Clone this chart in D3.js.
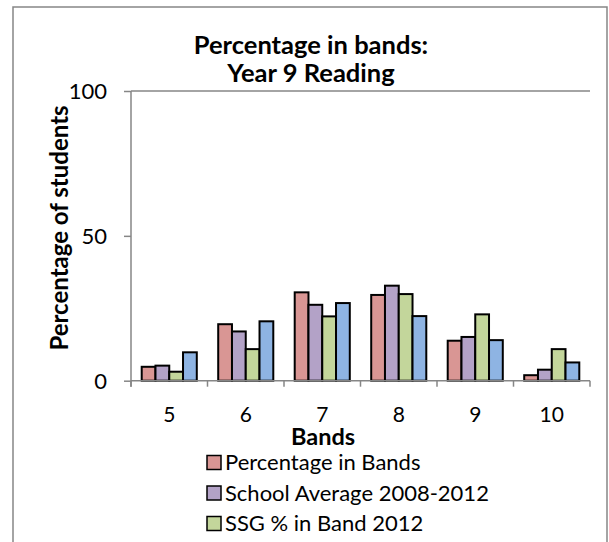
<!DOCTYPE html>
<html><head><meta charset="utf-8">
<script src="https://cdn.jsdelivr.net/npm/d3@7"></script>
<style>
html,body{margin:0;padding:0;background:#fff;}
svg{display:block;font-family:Lato,"Liberation Sans",sans-serif;}
</style></head>
<body>
<svg id="c" width="609" height="542"></svg>
<script>
const categories = ["5","6","7","8","9","10"];
const seriesNames = ["Percentage in Bands","School Average 2008-2012","SSG % in Band 2012","State % in Band 2012"];
const percentageInBands = [4.8, 19.5, 30.5, 29.6, 13.8, 1.9];
const schoolAverage = [5.2, 17.0, 26.2, 32.8, 15.1, 3.8];
const ssgBand2012 = [3.1, 10.9, 22.2, 29.9, 22.9, 10.9];
const stateBand2012 = [9.8, 20.5, 26.8, 22.3, 14.0, 6.3];
const yTicks = [0, 50, 100];
const colors = ["#D99694","#B3A2C7","#C3D69B","#8EB4E3"];

const seriesValues = [percentageInBands, schoolAverage, ssgBand2012, stateBand2012];
const svg = d3.select("#c");
const axisColor = "#868686";

// outer chart border
svg.append("rect").attr("x",13).attr("y",7).attr("width",594).attr("height",560)
  .attr("fill","none").attr("stroke",axisColor).attr("stroke-width",1.5);

const x = d3.scaleBand().domain(categories).range([131,590]).paddingInner(0.28).paddingOuter(0.14);
const xs = d3.scaleBand().domain(d3.range(seriesNames.length)).range([0,x.bandwidth()]);
const y = d3.scaleLinear().domain([0,100]).range([380.7,91]);

// gridline at max
svg.append("line").attr("x1",131).attr("x2",590).attr("y1",y(100)).attr("y2",y(100))
  .attr("stroke",axisColor).attr("stroke-width",1.5);

// bars
const g = svg.append("g");
categories.forEach((c,i)=>{
  seriesValues.forEach((vals,s)=>{
    g.append("rect")
      .attr("x", x(c)+xs(s))
      .attr("y", y(vals[i]))
      .attr("width", xs.bandwidth())
      .attr("height", y(0)-y(vals[i]))
      .attr("fill", colors[s])
      .attr("stroke","#000").attr("stroke-width",2);
  });
});

// y axis
const yAxis = d3.axisLeft(y).tickValues(yTicks).tickSize(7).tickPadding(17).tickFormat(d3.format("d"));
const ya = svg.append("g").attr("transform","translate(131,0)").call(yAxis);
ya.select(".domain").attr("stroke",axisColor).attr("stroke-width",1.5).attr("d","M0,"+y(100)+"V"+(y(0)+6));
ya.selectAll(".tick line").attr("stroke",axisColor).attr("stroke-width",1.5);
ya.selectAll("text").attr("font-size",22).attr("fill","#000").attr("font-family","Lato,sans-serif").attr("dy","0.36em");

// x axis
const xa = svg.append("g").attr("transform","translate(0,"+y(0)+")");
xa.append("line").attr("x1",131).attr("x2",590).attr("y1",0).attr("y2",0).attr("stroke",axisColor).attr("stroke-width",1.5);
const boundaries = categories.map(c=>x(c)-x.step()*x.paddingInner()/2).concat([590]);
boundaries.forEach((b,i)=>{
  xa.append("line").attr("x1",i===0?131:b).attr("x2",i===0?131:b).attr("y1",0).attr("y2",6)
    .attr("stroke",axisColor).attr("stroke-width",1.5);
});
categories.forEach(c=>{
  xa.append("text").attr("x",x(c)+x.bandwidth()/2).attr("y",41).attr("text-anchor","middle")
    .attr("font-size",21).text(c);
});

// titles
svg.append("text").attr("x",311).attr("y",54).attr("text-anchor","middle").attr("font-weight","bold").attr("font-size",25.5).text("Percentage in bands:");
svg.append("text").attr("x",311).attr("y",82).attr("text-anchor","middle").attr("font-weight","bold").attr("font-size",25.5).text("Year 9 Reading");
svg.append("text").attr("x",323).attr("y",444.5).attr("text-anchor","middle").attr("font-weight","bold").attr("font-size",23.5).text("Bands");
svg.append("text").attr("transform","translate(68,228) rotate(-90)").attr("text-anchor","middle").attr("font-weight","bold").attr("font-size",24).text("Percentage of students");

// legend (only the entries that fit inside the visible frame)
const lg = svg.append("g");
seriesNames.forEach((n,i)=>{
  const cy = 462.5 + i*30.5;
  if (cy + 10 > 542) return;
  lg.append("rect").attr("x",207).attr("y",cy-7).attr("width",14).attr("height",14)
    .attr("fill",colors[i]).attr("stroke","#000").attr("stroke-width",1.5);
  lg.append("text").attr("x",225).attr("y",cy+7.5).attr("font-size",22).text(n);
});
</script>
</body></html>
